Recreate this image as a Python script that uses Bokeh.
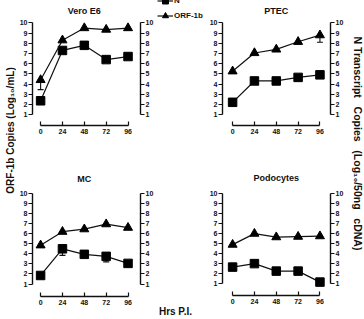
import math

from bokeh.embed import file_html
from bokeh.layouts import column, row
from bokeh.models import (ColumnDataSource, FixedTicker, Label, Legend, LegendItem,
                          LinearAxis, Range1d, TeeHead, Whisker)
from bokeh.plotting import figure
from bokeh.resources import INLINE

FONT = "Liberation Sans"
INK = "#111111"
NBSP3 = "\u00a0\u00a0\u00a0"

# ---- data -------------------------------------------------------------
hours = [0, 24, 48, 72, 96]
y_ticks = [1, 2, 3, 4, 5, 6, 7, 8, 9, 10]

vero_n = [2.35, 7.3, 7.8, 6.4, 6.7]
vero_orf = [4.4, 8.3, 9.5, 9.35, 9.5]
ptec_n = [2.2, 4.3, 4.3, 4.65, 4.9]
ptec_orf = [5.25, 7.05, 7.4, 8.15, 8.8]
mc_n = [1.85, 4.5, 3.95, 3.75, 3.05]
mc_orf = [4.85, 6.2, 6.45, 6.95, 6.6]
podo_n = [2.6, 2.95, 2.2, 2.2, 1.1]
podo_orf = [4.85, 5.95, 5.6, 5.65, 5.7]

# lower ends of the visible error bars
vero_orf_err_hours = [0]
vero_orf_err_low = [3.45]
ptec_orf_err_hours = [96]
ptec_orf_err_low = [8.1]
mc_n_err_hours = [24, 72]
mc_n_err_low = [3.85, 3.2]

series_names = ["N", "ORF-1b"]

TOP_H, BOT_H = 150, 169
TOP_BB, BOT_BB = 25, 23          # space under the x axes


def style_axis(ax, ticks, bounds, tick_in, tick_out, standoff):
    ax.ticker = FixedTicker(ticks=ticks)
    ax.bounds = bounds
    ax.major_tick_in = tick_in
    ax.major_tick_out = tick_out
    ax.minor_tick_line_color = None
    ax.major_label_standoff = standoff
    ax.axis_line_width = 1.4
    ax.axis_line_color = INK
    ax.major_tick_line_width = 1.2
    ax.major_tick_line_color = INK
    ax.major_label_text_font = FONT
    ax.major_label_text_font_style = "bold"
    ax.major_label_text_font_size = "7px"
    ax.major_label_text_color = INK


def blank(width, height, **borders):
    """An empty canvas whose data units are its own pixels (y upwards)."""
    opts = dict(min_border=0)
    opts.update(borders)
    f = figure(width=width, height=height, x_range=Range1d(0, width),
               y_range=Range1d(0, height), x_axis_type=None, y_axis_type=None,
               output_backend="svg", toolbar_location=None, **opts)
    f.outline_line_color = None
    f.background_fill_color = "white"
    f.border_fill_color = "white"
    return f


def text_label(x, y, text, size, angle=0.0):
    return Label(x=x, y=y, text=text, angle=angle, text_align="center",
                 text_baseline="middle", text_font=FONT, text_font_style="bold",
                 text_font_size=size, text_color=INK)


def add_series(p, src, y, marker, size, visible=True):
    ln = p.line("h", y, source=src, line_color=INK, line_width=1.2, visible=visible)
    mk = p.scatter("h", y, source=src, marker=marker, size=size,
                   fill_color="black", line_color="black", visible=visible)
    return ln, mk


def panel(title, n_vals, orf_vals, width, height, x_range, y_range,
          border_left, border_right, border_bottom, title_y, err=None):
    p = figure(width=width, height=height,
               x_range=Range1d(*x_range), y_range=Range1d(*y_range),
               x_axis_type=None, y_axis_type=None,
               min_border_left=border_left, min_border_right=border_right,
               min_border_top=0, min_border_bottom=border_bottom,
               output_backend="svg", toolbar_location=None)
    p.outline_line_color = None
    p.background_fill_color = "white"
    p.border_fill_color = "white"

    for place in ("left", "right"):
        ax = LinearAxis()
        style_axis(ax, y_ticks, (1, 10), 0, 4, 1)
        p.add_layout(ax, place)
    xax = LinearAxis()
    style_axis(xax, hours, (0, 96), 4, 0, 3)
    p.add_layout(xax, "below")

    src = ColumnDataSource(dict(h=hours, n=n_vals, orf=orf_vals))

    if err:
        series, e_hours, e_low = err
        tops = [series[hours.index(h)] for h in e_hours]
        esrc = ColumnDataSource(dict(h=e_hours, top=tops, low=e_low))
        p.add_layout(Whisker(base="h", upper="top", lower="low", source=esrc,
                             dimension="height", upper_head=None,
                             lower_head=TeeHead(size=6, line_color=INK, line_width=1.1),
                             line_color=INK, line_width=1.1))

    add_series(p, src, "n", "square", 8.5)
    add_series(p, src, "orf", "triangle", 9)

    p.add_layout(Label(x=48, y=title_y, x_units="data", y_units="screen",
                       text=title, text_align="center", text_baseline="middle",
                       text_font=FONT, text_font_style="bold",
                       text_font_size="9px", text_color=INK))
    return p


# panel ranges (hours / log10 copies) chosen so the axes sit on the frame edges
LEFT_X = (-8.9, 109.7)
RIGHT_X = (-11.1, 107.6)
TOP_Y = (-0.08, 12.21)
BOT_Y = (-0.24, 14.27)

tl = panel("Vero E6", vero_n, vero_orf, 140, TOP_H, LEFT_X, TOP_Y, 14, 13, TOP_BB, 115,
           err=(vero_orf, vero_orf_err_hours, vero_orf_err_low))
tr = panel("PTEC", ptec_n, ptec_orf, 140, TOP_H, RIGHT_X, TOP_Y, 14, 14, TOP_BB, 115,
           err=(ptec_orf, ptec_orf_err_hours, ptec_orf_err_low))
bl = panel("MC", mc_n, mc_orf, 140, BOT_H, LEFT_X, BOT_Y, 14, 13, BOT_BB, 118,
           err=(mc_n, mc_n_err_hours, mc_n_err_low))
br = panel("Podocytes", podo_n, podo_orf, 140, BOT_H, RIGHT_X, BOT_Y, 14, 14, BOT_BB, 118)

# legend strip between the two upper panels (frame matches the PTEC frame);
# its key glyphs come from hidden copies of the PTEC series
leg_fig = blank(50, TOP_H, min_border_bottom=TOP_BB)
key_src = ColumnDataSource(dict(h=hours, n=ptec_n, orf=ptec_orf))
n_key = add_series(leg_fig, key_src, "n", "square", 8, visible=False)
o_key = add_series(leg_fig, key_src, "orf", "triangle", 8, visible=False)
legend = Legend(items=[LegendItem(label=series_names[0], renderers=list(n_key)),
                       LegendItem(label=series_names[1], renderers=list(o_key))],
                location=(1, TOP_H - TOP_BB - 23), orientation="vertical",
                glyph_width=16, glyph_height=15, label_height=12,
                label_standoff=1, spacing=-4, padding=0, margin=0,
                border_line_color=None, background_fill_alpha=0,
                inactive_fill_alpha=0,
                label_text_font=FONT, label_text_font_style="bold",
                label_text_font_size="8px", label_text_color=INK)
leg_fig.add_layout(legend)

# shared x-axis title between the two lower panels
hrs_fig = blank(50, BOT_H, min_border_bottom=BOT_BB, min_border_right=12)
hrs_axis = LinearAxis(ticker=FixedTicker(ticks=[]), axis_label="Hrs P.I.",
                      axis_line_color=None, major_tick_line_color=None,
                      minor_tick_line_color=None, major_tick_in=0, major_tick_out=0,
                      major_label_standoff=0, axis_label_standoff=10,
                      axis_label_text_font=FONT, axis_label_text_font_style="bold",
                      axis_label_text_font_size="10px", axis_label_text_color=INK)
hrs_fig.add_layout(hrs_axis, "below")

left_lab = blank(16, 319)
left_lab.add_layout(text_label(9.5, 319 - 130, "ORF-1b Copies (Log\u2081\u2080/mL)",
                               "10px", angle=math.pi / 2))
right_lab = blank(18, 319)
right_lab.add_layout(text_label(11.5, 319 - 143,
                                "N Transcript" + NBSP3 + "Copies" + NBSP3
                                + "(Log\u2081\u2080/50ng" + NBSP3 + "cDNA)",
                                "10.5px", angle=-math.pi / 2))

layout = row(left_lab,
             column(tl, bl),
             column(row(leg_fig, tr), row(hrs_fig, br)),
             right_lab)

with open("out.html", "w") as fh:
    fh.write(file_html(layout, INLINE))
